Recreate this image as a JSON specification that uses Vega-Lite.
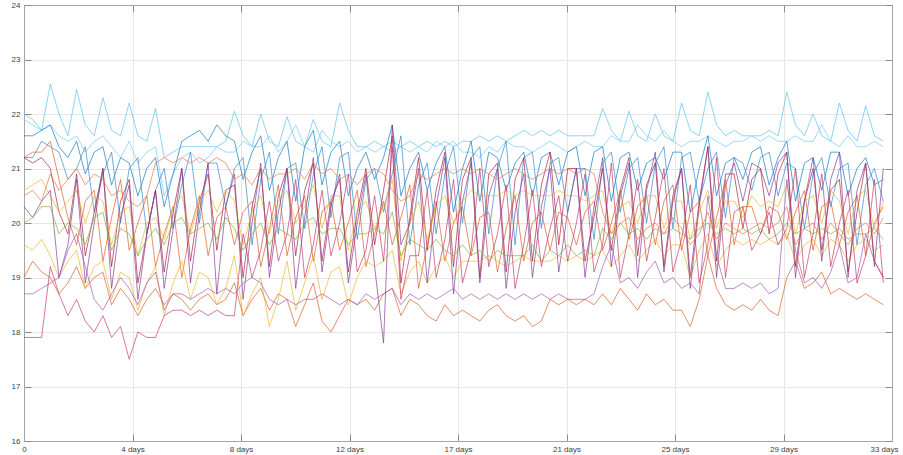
{
"$schema":"https://vega.github.io/schema/vega-lite/v6.json",
"width":868,"height":436,
"autosize":{"type":"none"},
"padding":{"left":24,"top":5,"right":11,"bottom":14},
"background":"white",
"config":{"view":{"stroke":"#a6a6a6","strokeWidth":1},
"axis":{"labelFont":"Liberation Sans","labelFontSize":8,"labelColor":"#404040","domainColor":"#a6a6a6","tickColor":"#8c8c8c","gridColor":"#e6e6e6","gridWidth":1,"title":null}},
"data":{"values":[
{"t":0,"a":22.0,"b":21.9,"c":21.6,"d":21.2,"e":21.2,"f":21.2,"g":19.0,"h":20.6,"i":19.6,"j":20.3,"k":18.7,"l":20.0,"m":17.9,"n":20.5},
{"t":0.33,"a":21.9,"b":21.8,"c":21.6,"d":21.2,"e":21.1,"f":21.3,"g":19.3,"h":20.7,"i":19.5,"j":20.1,"k":18.7,"l":20.1,"m":17.9,"n":20.6},
{"t":0.67,"a":21.7,"b":21.7,"c":21.7,"d":21.5,"e":21.2,"f":21.3,"g":19.1,"h":20.8,"i":19.7,"j":20.4,"k":18.8,"l":20.3,"m":17.9,"n":20.4},
{"t":1,"a":22.55,"b":21.8,"c":21.8,"d":21.4,"e":21.0,"f":21.5,"g":19.0,"h":20.5,"i":19.4,"j":20.6,"k":18.9,"l":20.3,"m":19.2,"n":20.9},
{"t":1.33,"a":22.0,"b":21.6,"c":21.4,"d":21.3,"e":20.2,"f":20.8,"g":18.7,"h":20.2,"i":19.0,"j":19.0,"k":19.0,"l":19.8,"m":18.7,"n":20.6},
{"t":1.67,"a":21.6,"b":21.5,"c":21.2,"d":20.8,"e":19.8,"f":20.1,"g":18.9,"h":20.4,"i":19.3,"j":19.6,"k":19.5,"l":20.0,"m":18.3,"n":20.8},
{"t":2,"a":22.45,"b":21.6,"c":21.5,"d":21.0,"e":20.9,"f":19.6,"g":19.2,"h":20.6,"i":19.5,"j":20.8,"k":19.8,"l":19.9,"m":18.6,"n":21.0},
{"t":2.33,"a":21.8,"b":21.3,"c":20.9,"d":21.4,"e":19.4,"f":20.4,"g":18.8,"h":20.0,"i":18.8,"j":18.9,"k":19.2,"l":19.6,"m":18.2,"n":20.7},
{"t":2.67,"a":21.6,"b":21.5,"c":21.3,"d":20.2,"e":20.2,"f":20.6,"g":19.0,"h":20.5,"i":19.2,"j":20.0,"k":18.6,"l":20.1,"m":18.0,"n":20.9},
{"t":3,"a":22.3,"b":21.6,"c":21.4,"d":20.9,"e":21.0,"f":19.3,"g":19.1,"h":20.4,"i":19.3,"j":21.0,"k":18.4,"l":20.2,"m":18.3,"n":20.8},
{"t":3.33,"a":21.7,"b":21.4,"c":20.7,"d":21.3,"e":19.2,"f":20.1,"g":18.5,"h":19.6,"i":18.6,"j":18.8,"k":18.7,"l":19.5,"m":17.9,"n":20.5},
{"t":3.67,"a":21.6,"b":21.2,"c":21.2,"d":20.0,"e":20.4,"f":20.8,"g":18.8,"h":20.2,"i":19.1,"j":20.1,"k":19.0,"l":19.9,"m":18.1,"n":20.6},
{"t":4,"a":22.2,"b":21.5,"c":21.1,"d":21.0,"e":20.8,"f":19.5,"g":18.6,"h":20.3,"i":19.0,"j":20.7,"k":18.8,"l":19.8,"m":17.5,"n":20.4},
{"t":4.33,"a":21.6,"b":21.1,"c":20.5,"d":21.2,"e":18.9,"f":20.0,"g":18.3,"h":19.4,"i":18.4,"j":18.6,"k":18.5,"l":19.4,"m":18.0,"n":20.3},
{"t":4.67,"a":21.5,"b":21.3,"c":21.0,"d":19.8,"e":19.8,"f":20.5,"g":18.6,"h":20.0,"i":18.9,"j":19.8,"k":18.9,"l":19.7,"m":17.9,"n":20.5},
{"t":5,"a":22.1,"b":21.4,"c":21.2,"d":20.6,"e":20.6,"f":19.2,"g":18.8,"h":20.1,"i":19.2,"j":20.6,"k":19.1,"l":19.9,"m":17.9,"n":21.1},
{"t":5.33,"a":21.2,"b":20.5,"c":20.3,"d":21.0,"e":19.1,"f":19.8,"g":18.5,"h":19.7,"i":18.3,"j":18.8,"k":18.4,"l":19.6,"m":18.3,"n":21.2},
{"t":5.67,"a":21.3,"b":20.9,"c":20.9,"d":19.9,"e":20.2,"f":20.3,"g":18.7,"h":20.3,"i":18.9,"j":19.9,"k":18.7,"l":20.0,"m":18.4,"n":21.1},
{"t":6,"a":21.4,"b":21.2,"c":21.5,"d":20.7,"e":21.0,"f":19.0,"g":18.6,"h":20.5,"i":19.3,"j":21.0,"k":18.7,"l":20.1,"m":18.4,"n":21.2},
{"t":6.33,"a":21.4,"b":21.3,"c":21.6,"d":21.3,"e":19.3,"f":19.9,"g":18.4,"h":19.8,"i":18.6,"j":18.9,"k":18.6,"l":19.8,"m":18.3,"n":21.1},
{"t":6.67,"a":21.4,"b":21.1,"c":21.7,"d":20.0,"e":20.4,"f":20.5,"g":18.6,"h":20.4,"i":19.1,"j":20.2,"k":18.7,"l":19.9,"m":18.4,"n":21.2},
{"t":7,"a":21.4,"b":21.2,"c":21.5,"d":21.1,"e":20.9,"f":19.4,"g":18.7,"h":20.6,"i":19.0,"j":21.1,"k":18.8,"l":20.0,"m":18.3,"n":21.1},
{"t":7.33,"a":21.4,"b":21.4,"c":21.8,"d":21.1,"e":19.5,"f":20.1,"g":18.5,"h":20.2,"i":18.5,"j":18.7,"k":18.7,"l":19.7,"m":18.4,"n":21.2},
{"t":7.67,"a":21.5,"b":21.3,"c":21.6,"d":20.3,"e":20.6,"f":20.3,"g":18.6,"h":20.6,"i":18.8,"j":20.3,"k":18.8,"l":20.1,"m":18.3,"n":21.1},
{"t":8,"a":22.05,"b":21.3,"c":21.5,"d":21.0,"e":20.7,"f":19.6,"g":18.9,"h":20.4,"i":19.4,"j":20.9,"k":18.7,"l":19.9,"m":18.3,"n":20.8},
{"t":8.33,"a":21.6,"b":21.5,"c":20.8,"d":21.2,"e":19.0,"f":20.2,"g":18.3,"h":19.6,"i":18.3,"j":18.6,"k":18.9,"l":19.5,"m":19.8,"n":20.9},
{"t":8.67,"a":21.4,"b":21.4,"c":21.3,"d":19.6,"e":20.3,"f":20.4,"g":18.6,"h":20.2,"i":18.7,"j":20.0,"k":19.0,"l":19.8,"m":19.0,"n":20.7},
{"t":9,"a":22.0,"b":21.4,"c":21.6,"d":20.8,"e":21.0,"f":19.2,"g":18.8,"h":20.5,"i":19.0,"j":21.1,"k":18.9,"l":20.0,"m":19.5,"n":21.0},
{"t":9.33,"a":21.5,"b":21.6,"c":20.6,"d":21.3,"e":19.2,"f":19.9,"g":18.4,"h":19.8,"i":18.1,"j":19.0,"k":18.6,"l":19.6,"m":20.4,"n":20.8},
{"t":9.67,"a":21.4,"b":21.3,"c":21.2,"d":19.8,"e":20.5,"f":20.7,"g":18.7,"h":20.4,"i":18.6,"j":20.2,"k":18.5,"l":19.9,"m":19.3,"n":20.9},
{"t":10,"a":21.95,"b":21.5,"c":21.5,"d":21.0,"e":21.0,"f":19.4,"g":18.6,"h":20.6,"i":19.3,"j":21.0,"k":18.6,"l":19.8,"m":19.8,"n":20.9},
{"t":10.33,"a":21.5,"b":21.8,"c":20.4,"d":21.1,"e":19.4,"f":20.1,"g":18.1,"h":20.0,"i":18.4,"j":18.8,"k":18.5,"l":19.7,"m":20.8,"n":21.0},
{"t":10.67,"a":21.4,"b":21.4,"c":21.4,"d":19.9,"e":20.6,"f":20.5,"g":18.5,"h":20.3,"i":18.9,"j":20.1,"k":18.6,"l":20.0,"m":19.0,"n":20.8},
{"t":11,"a":21.9,"b":21.3,"c":21.7,"d":20.9,"e":21.1,"f":19.3,"g":18.9,"h":20.7,"i":19.4,"j":21.2,"k":18.6,"l":20.1,"m":19.6,"n":21.1},
{"t":11.33,"a":21.5,"b":21.7,"c":20.7,"d":21.4,"e":19.3,"f":20.2,"g":18.2,"h":19.9,"i":18.6,"j":19.1,"k":18.7,"l":19.8,"m":20.6,"n":20.9},
{"t":11.67,"a":21.4,"b":21.5,"c":21.3,"d":20.1,"e":20.4,"f":20.4,"g":18.0,"h":20.5,"i":19.1,"j":20.3,"k":18.6,"l":19.9,"m":19.4,"n":21.0},
{"t":12,"a":22.2,"b":21.4,"c":21.5,"d":21.2,"e":20.8,"f":19.5,"g":18.3,"h":20.5,"i":19.2,"j":20.9,"k":18.5,"l":19.9,"m":20.0,"n":20.8},
{"t":12.33,"a":21.7,"b":21.5,"c":20.5,"d":21.3,"e":19.1,"f":20.0,"g":18.6,"h":19.5,"i":18.5,"j":18.9,"k":18.6,"l":19.6,"m":20.9,"n":20.9},
{"t":12.67,"a":21.4,"b":21.3,"c":21.0,"d":19.7,"e":20.2,"f":20.6,"g":18.5,"h":20.2,"i":19.0,"j":20.0,"k":18.5,"l":19.8,"m":19.1,"n":20.7},
{"t":13,"a":21.4,"b":21.4,"c":21.3,"d":20.8,"e":21.0,"f":19.2,"g":18.6,"h":20.4,"i":19.3,"j":20.9,"k":18.7,"l":19.8,"m":19.5,"n":20.9},
{"t":13.33,"a":21.5,"b":21.3,"c":20.8,"d":21.0,"e":19.6,"f":19.8,"g":18.4,"h":19.9,"i":19.2,"j":19.2,"k":18.6,"l":19.9,"m":20.5,"n":21.0},
{"t":13.67,"a":21.4,"b":21.4,"c":21.2,"d":20.2,"e":20.6,"f":20.4,"g":18.7,"h":20.3,"i":19.3,"j":17.8,"k":18.7,"l":19.8,"m":19.3,"n":20.9},
{"t":14,"a":21.5,"b":21.3,"c":21.8,"d":20.9,"e":21.6,"f":19.6,"g":18.8,"h":20.8,"i":19.5,"j":21.8,"k":18.8,"l":20.2,"m":21.4,"n":20.6},
{"t":14.33,"a":21.4,"b":21.4,"c":20.5,"d":21.6,"e":18.9,"f":20.1,"g":18.3,"h":19.3,"i":18.7,"j":19.6,"k":18.5,"l":19.4,"m":18.6,"n":20.4},
{"t":14.67,"a":21.5,"b":21.3,"c":21.0,"d":19.6,"e":20.1,"f":20.7,"g":18.6,"h":20.0,"i":19.1,"j":20.0,"k":18.7,"l":19.7,"m":19.4,"n":20.5},
{"t":15,"a":21.4,"b":21.4,"c":21.3,"d":20.7,"e":21.2,"f":18.8,"g":18.5,"h":20.4,"i":19.3,"j":21.0,"k":18.6,"l":19.6,"m":19.4,"n":20.9},
{"t":15.33,"a":21.5,"b":21.3,"c":20.6,"d":21.1,"e":19.5,"f":19.6,"g":18.3,"h":19.7,"i":18.9,"j":18.9,"k":18.7,"l":19.5,"m":20.6,"n":20.8},
{"t":15.67,"a":21.4,"b":21.5,"c":21.1,"d":19.8,"e":20.6,"f":20.4,"g":18.2,"h":20.3,"i":19.2,"j":20.3,"k":18.6,"l":19.7,"m":19.0,"n":20.9},
{"t":16,"a":21.5,"b":21.4,"c":21.4,"d":20.9,"e":21.3,"f":19.3,"g":18.5,"h":20.5,"i":19.4,"j":21.2,"k":18.7,"l":19.5,"m":19.7,"n":21.0},
{"t":16.33,"a":21.4,"b":21.5,"c":20.2,"d":21.4,"e":19.2,"f":20.0,"g":18.3,"h":20.0,"i":19.0,"j":18.7,"k":18.8,"l":19.4,"m":20.8,"n":20.9},
{"t":16.67,"a":21.5,"b":21.3,"c":21.0,"d":20.0,"e":20.8,"f":20.3,"g":18.4,"h":20.4,"i":19.3,"j":20.4,"k":18.6,"l":19.6,"m":18.9,"n":21.0},
{"t":17,"a":21.5,"b":21.3,"c":21.5,"d":21.2,"e":21.2,"f":19.4,"g":18.3,"h":20.6,"i":19.3,"j":21.1,"k":18.7,"l":19.4,"m":19.5,"n":20.9},
{"t":17.33,"a":21.6,"b":21.2,"c":20.4,"d":21.4,"e":19.0,"f":20.1,"g":18.2,"h":20.5,"i":19.3,"j":18.9,"k":18.6,"l":19.5,"m":21.0,"n":21.0},
{"t":17.67,"a":21.5,"b":21.4,"c":21.3,"d":19.8,"e":20.9,"f":20.2,"g":18.4,"h":20.5,"i":19.4,"j":20.5,"k":18.7,"l":19.3,"m":19.2,"n":20.9},
{"t":18,"a":21.6,"b":21.3,"c":21.2,"d":21.0,"e":21.1,"f":19.1,"g":18.5,"h":20.5,"i":19.3,"j":21.0,"k":18.6,"l":19.5,"m":19.8,"n":20.8},
{"t":18.33,"a":21.5,"b":21.5,"c":20.6,"d":21.5,"e":19.1,"f":19.9,"g":18.3,"h":20.6,"i":19.2,"j":18.8,"k":18.7,"l":19.4,"m":20.7,"n":20.9},
{"t":18.67,"a":21.6,"b":21.4,"c":21.1,"d":19.6,"e":20.8,"f":20.5,"g":18.2,"h":20.5,"i":19.3,"j":20.2,"k":18.6,"l":19.4,"m":18.8,"n":21.0},
{"t":19,"a":21.7,"b":21.4,"c":21.3,"d":21.2,"e":21.2,"f":19.3,"g":18.3,"h":20.6,"i":19.4,"j":20.9,"k":18.7,"l":19.4,"m":19.6,"n":20.9},
{"t":19.33,"a":21.6,"b":21.3,"c":20.5,"d":21.3,"e":19.3,"f":20.0,"g":18.1,"h":20.5,"i":19.3,"j":19.0,"k":18.6,"l":19.6,"m":20.6,"n":20.8},
{"t":19.67,"a":21.7,"b":21.4,"c":21.2,"d":19.9,"e":20.7,"f":20.2,"g":18.2,"h":20.5,"i":19.3,"j":20.3,"k":18.7,"l":19.3,"m":19.2,"n":20.9},
{"t":20,"a":21.6,"b":21.5,"c":21.3,"d":21.1,"e":21.3,"f":19.5,"g":18.6,"h":20.5,"i":19.3,"j":21.0,"k":18.6,"l":19.5,"m":19.9,"n":21.0},
{"t":20.33,"a":21.7,"b":21.4,"c":20.7,"d":21.2,"e":19.6,"f":20.2,"g":18.5,"h":20.6,"i":19.4,"j":19.1,"k":18.7,"l":19.4,"m":20.5,"n":20.9},
{"t":20.67,"a":21.6,"b":21.3,"c":21.3,"d":20.2,"e":21.0,"f":20.1,"g":18.6,"h":20.5,"i":19.3,"j":20.2,"k":18.6,"l":19.6,"m":19.3,"n":21.0},
{"t":21,"a":21.6,"b":21.4,"c":21.4,"d":21.0,"e":21.0,"f":19.6,"g":18.5,"h":20.5,"i":19.4,"j":21.0,"k":18.6,"l":19.4,"m":20.0,"n":20.9},
{"t":21.33,"a":21.6,"b":21.5,"c":20.5,"d":21.0,"e":19.3,"f":20.2,"g":18.6,"h":20.4,"i":19.3,"j":19.0,"k":18.6,"l":19.5,"m":20.9,"n":21.0},
{"t":21.67,"a":21.6,"b":21.4,"c":21.3,"d":19.7,"e":20.1,"f":20.4,"g":18.5,"h":20.5,"i":19.4,"j":20.3,"k":18.7,"l":19.4,"m":19.1,"n":20.9},
{"t":22,"a":22.1,"b":21.4,"c":21.4,"d":21.1,"e":21.0,"f":19.5,"g":18.7,"h":20.6,"i":19.5,"j":21.2,"k":19.2,"l":19.9,"m":19.6,"n":20.2},
{"t":22.33,"a":21.7,"b":21.6,"c":20.4,"d":21.3,"e":19.5,"f":20.0,"g":18.5,"h":19.8,"i":19.2,"j":19.2,"k":19.6,"l":19.7,"m":21.1,"n":19.8},
{"t":22.67,"a":21.5,"b":21.5,"c":21.2,"d":20.2,"e":20.6,"f":20.6,"g":18.8,"h":20.3,"i":19.4,"j":20.5,"k":18.9,"l":20.0,"m":19.0,"n":20.0},
{"t":23,"a":22.05,"b":21.5,"c":21.3,"d":21.0,"e":21.2,"f":19.7,"g":18.6,"h":20.4,"i":19.6,"j":21.1,"k":19.0,"l":19.8,"m":19.8,"n":20.1},
{"t":23.33,"a":21.6,"b":21.8,"c":20.6,"d":21.2,"e":19.4,"f":20.3,"g":18.4,"h":20.0,"i":19.3,"j":19.0,"k":18.8,"l":19.9,"m":20.8,"n":19.7},
{"t":23.67,"a":21.5,"b":21.6,"c":21.1,"d":20.0,"e":20.7,"f":20.5,"g":18.7,"h":20.5,"i":19.5,"j":20.6,"k":19.1,"l":19.7,"m":19.3,"n":19.9},
{"t":24,"a":22.0,"b":21.5,"c":21.2,"d":21.1,"e":21.1,"f":19.6,"g":18.5,"h":20.5,"i":19.7,"j":21.3,"k":19.3,"l":19.9,"m":20.1,"n":20.0},
{"t":24.33,"a":21.6,"b":21.7,"c":20.8,"d":21.4,"e":19.2,"f":20.4,"g":18.6,"h":19.9,"i":19.4,"j":19.1,"k":18.9,"l":19.8,"m":21.0,"n":19.8},
{"t":24.67,"a":21.5,"b":21.5,"c":21.3,"d":19.9,"e":20.5,"f":20.7,"g":18.4,"h":20.4,"i":19.6,"j":20.4,"k":19.0,"l":19.9,"m":19.1,"n":20.1},
{"t":25,"a":22.2,"b":21.4,"c":21.3,"d":21.2,"e":21.0,"f":19.5,"g":18.4,"h":20.4,"i":19.6,"j":21.0,"k":18.8,"l":19.8,"m":19.7,"n":19.9},
{"t":25.33,"a":21.7,"b":21.5,"c":20.2,"d":21.3,"e":19.0,"f":20.2,"g":18.1,"h":19.7,"i":19.0,"j":18.8,"k":18.9,"l":19.7,"m":20.7,"n":19.6},
{"t":25.67,"a":21.6,"b":21.5,"c":21.0,"d":20.4,"e":20.4,"f":20.4,"g":18.6,"h":20.2,"i":19.5,"j":20.3,"k":18.7,"l":19.9,"m":18.9,"n":19.8},
{"t":26,"a":22.4,"b":21.6,"c":21.6,"d":21.0,"e":21.4,"f":19.4,"g":19.4,"h":20.6,"i":19.8,"j":21.4,"k":20.5,"l":20.0,"m":19.6,"n":20.2},
{"t":26.33,"a":21.8,"b":21.5,"c":20.5,"d":21.3,"e":19.3,"f":20.1,"g":18.8,"h":19.9,"i":19.2,"j":19.0,"k":19.4,"l":19.8,"m":21.2,"n":19.7},
{"t":26.67,"a":21.6,"b":21.4,"c":21.1,"d":20.1,"e":20.9,"f":20.8,"g":18.5,"h":20.4,"i":19.5,"j":20.7,"k":18.8,"l":19.9,"m":19.0,"n":20.0},
{"t":27,"a":21.7,"b":21.5,"c":21.2,"d":21.2,"e":20.9,"f":19.6,"g":18.4,"h":20.4,"i":19.7,"j":21.1,"k":18.8,"l":19.8,"m":20.2,"n":19.9},
{"t":27.33,"a":21.6,"b":21.5,"c":20.8,"d":21.1,"e":19.9,"f":20.3,"g":18.5,"h":20.1,"i":19.6,"j":20.4,"k":18.9,"l":19.9,"m":20.3,"n":19.8},
{"t":27.67,"a":21.6,"b":21.6,"c":21.3,"d":20.6,"e":20.8,"f":20.3,"g":18.4,"h":20.5,"i":19.7,"j":21.1,"k":18.8,"l":19.8,"m":19.5,"n":19.9},
{"t":28,"a":21.6,"b":21.5,"c":21.4,"d":21.2,"e":21.0,"f":19.8,"g":18.6,"h":20.3,"i":19.6,"j":21.0,"k":18.9,"l":19.9,"m":19.8,"n":20.0},
{"t":28.33,"a":21.7,"b":21.6,"c":20.7,"d":21.3,"e":19.8,"f":20.3,"g":18.4,"h":20.4,"i":19.7,"j":20.5,"k":18.7,"l":19.7,"m":20.2,"n":19.9},
{"t":28.67,"a":21.6,"b":21.5,"c":21.2,"d":20.5,"e":20.9,"f":20.2,"g":18.3,"h":20.3,"i":19.6,"j":21.1,"k":18.8,"l":19.8,"m":19.6,"n":20.0},
{"t":29,"a":22.4,"b":21.5,"c":21.5,"d":21.1,"e":21.3,"f":19.7,"g":19.0,"h":20.7,"i":19.8,"j":21.3,"k":20.8,"l":20.0,"m":19.9,"n":20.3},
{"t":29.33,"a":21.8,"b":21.6,"c":20.4,"d":21.0,"e":19.2,"f":20.2,"g":19.3,"h":19.8,"i":19.3,"j":19.0,"k":19.5,"l":19.8,"m":21.0,"n":19.6},
{"t":29.67,"a":21.6,"b":21.5,"c":21.1,"d":19.9,"e":20.4,"f":20.6,"g":18.8,"h":20.4,"i":19.6,"j":20.4,"k":18.9,"l":19.9,"m":19.0,"n":19.9},
{"t":30,"a":22.0,"b":21.5,"c":21.2,"d":20.9,"e":21.0,"f":19.5,"g":18.9,"h":20.5,"i":19.7,"j":21.2,"k":19.0,"l":19.8,"m":19.8,"n":20.0},
{"t":30.33,"a":21.6,"b":21.8,"c":20.6,"d":21.2,"e":19.5,"f":20.3,"g":19.1,"h":20.0,"i":19.4,"j":19.3,"k":18.8,"l":19.9,"m":20.9,"n":19.7},
{"t":30.67,"a":21.5,"b":21.5,"c":21.3,"d":20.3,"e":20.6,"f":20.4,"g":18.7,"h":20.6,"i":19.7,"j":20.8,"k":19.1,"l":19.8,"m":19.2,"n":20.0},
{"t":31,"a":22.2,"b":21.4,"c":21.3,"d":21.0,"e":20.8,"f":19.6,"g":18.8,"h":20.4,"i":19.6,"j":21.3,"k":19.6,"l":19.9,"m":20.0,"n":19.8},
{"t":31.33,"a":21.7,"b":21.6,"c":20.5,"d":21.1,"e":19.1,"f":20.2,"g":18.7,"h":19.8,"i":19.3,"j":19.0,"k":18.9,"l":19.7,"m":20.6,"n":19.6},
{"t":31.67,"a":21.5,"b":21.4,"c":21.0,"d":19.6,"e":20.2,"f":20.5,"g":18.6,"h":20.5,"i":19.6,"j":20.6,"k":19.0,"l":19.8,"m":18.9,"n":19.9},
{"t":32,"a":22.15,"b":21.4,"c":21.2,"d":20.7,"e":21.1,"f":19.4,"g":18.7,"h":20.6,"i":19.7,"j":21.1,"k":19.8,"l":19.8,"m":19.4,"n":20.0},
{"t":32.33,"a":21.6,"b":21.5,"c":20.7,"d":21.0,"e":19.3,"f":20.0,"g":18.6,"h":19.9,"i":19.5,"j":19.2,"k":19.3,"l":19.9,"m":20.8,"n":19.8},
{"t":32.67,"a":21.5,"b":21.4,"c":20.8,"d":20.4,"e":19.0,"f":20.3,"g":18.5,"h":20.4,"i":19.6,"j":21.0,"k":19.0,"l":19.7,"m":18.9,"n":20.1}
]},
"transform":[{"fold":["a","b","c","d","e","f","g","h","i","j","k","l","m","n"],"as":["s","v"]}],
"layer":[
{"mark":{"type":"line","strokeWidth":1,"opacity":0.65},
"encoding":{
"x":{"field":"t","type":"quantitative","scale":{"domain":[0,33],"nice":false,"zero":false},
"axis":{"values":[0,4.125,8.25,12.375,16.5,20.625,24.75,28.875,33],"labelExpr":"datum.value == 0 ? '0' : round(datum.value) + ' days'","grid":true,"tickSize":-7,"labelPadding":11,"labelFlush":false,"labelOffset":{"condition":{"test":"datum.value == 33","value":-8},"value":0}}},
"y":{"field":"v","type":"quantitative","scale":{"domain":[16,24],"nice":false,"zero":false},
"axis":{"values":[16,17,18,19,20,21,22,23,24],"format":"d","grid":true,"tickSize":-7,"labelPadding":11}},
"color":{"field":"s","type":"nominal","legend":null,
"scale":{"domain":["a","b","c","d","e","f","g","h","i","j","k","l","m","n"],
"range":["#4DBEEE","#6cc8f0","#0072BD","#2a7fc8","#A2142F","#D95319","#D95319","#EDB120","#EDB120","#7E2F8E","#9b4fab","#77AC30","#c0305a","#e07040"]}}}},
{"mark":{"type":"line","opacity":0},
"encoding":{
"x":{"field":"t","type":"quantitative","axis":{"orient":"top","values":[0,4.125,8.25,12.375,16.5,20.625,24.75,28.875,33],"labels":false,"grid":false,"tickSize":-7}},
"y":{"field":"v","type":"quantitative","axis":{"orient":"right","values":[16,17,18,19,20,21,22,23,24],"labels":false,"grid":false,"tickSize":-7}},
"detail":{"field":"s"}}}
],
"resolve":{"axis":{"x":"independent","y":"independent"}}
}
